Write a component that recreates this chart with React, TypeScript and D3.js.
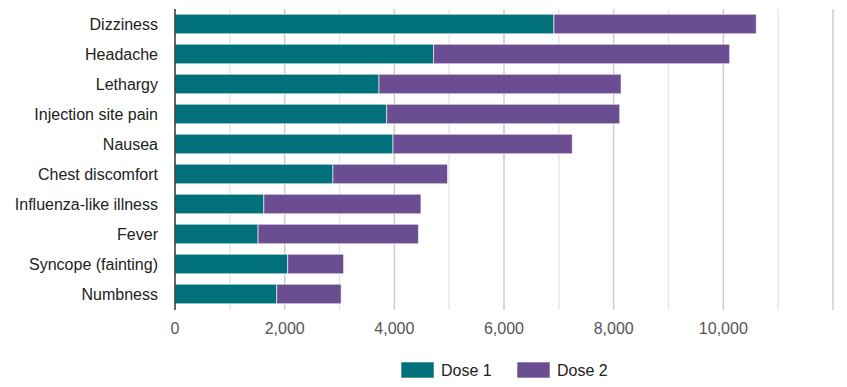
import * as React from 'react';
import { scaleBand, scaleLinear, stack, range, format } from 'd3';

const categories = [
    "Dizziness",
    "Headache",
    "Lethargy",
    "Injection site pain",
    "Nausea",
    "Chest discomfort",
    "Influenza-like illness",
    "Fever",
    "Syncope (fainting)",
    "Numbness",
];
const dose1 = [6910, 4715, 3720, 3860, 3975, 2880, 1620, 1515, 2055, 1855];
const dose2 = [3690, 5400, 4415, 4250, 3270, 2090, 2865, 2925, 1020, 1175];
const seriesNames = ["Dose 1", "Dose 2"];
const seriesColors = ["#00707a", "#6b4e92"];
const xTicks = [0, 2000, 4000, 6000, 8000, 10000];

const W = 847;
const H = 387;
const margin = { top: 9, right: 14, bottom: 78, left: 175 };

const App = () => {
    const innerW = W - margin.left - margin.right;
    const innerH = H - margin.top - margin.bottom;

    const rows = categories.map((c, i) => ({ name: c, "Dose 1": dose1[i], "Dose 2": dose2[i] }));
    const layers = stack<any>().keys(seriesNames)(rows);

    const x = scaleLinear().domain([0, 12000]).range([0, innerW]);
    const y = scaleBand().domain(categories).range([0, innerH]).paddingInner(0.35).paddingOuter(0.175);
    const fmt = format(",");

    return (
        <svg width={W} height={H} style={{ position: 'absolute', left: 0, top: 0, fontFamily: 'Arial, "Liberation Sans", sans-serif' }}>
            <rect width={W} height={H} fill="#fff" />
            <g transform={`translate(${margin.left},${margin.top})`}>
                {range(1000, 12001, 1000).map((t) => (
                    <line key={t} x1={x(t)} x2={x(t)} y1={0} y2={innerH + 1}
                        stroke={t % 2000 === 0 ? "#cccccc" : "#e6e6e6"} strokeWidth={1.5} />
                ))}
                {layers.map((layer, li) => (
                    <g key={layer.key} fill={seriesColors[li]}>
                        {layer.map((d: any) => (
                            <rect key={d.data.name}
                                x={x(d[0])}
                                y={y(d.data.name)}
                                width={x(d[1]) - x(d[0])}
                                height={y.bandwidth()}
                                stroke="rgba(255,255,255,0.6)" strokeWidth={1} />
                        ))}
                    </g>
                ))}
                <line x1={0} x2={0} y1={0} y2={innerH + 1} stroke="#333" strokeWidth={1.5} />
                {categories.map((c) => (
                    <text key={c} x={-17} y={(y(c) || 0) + y.bandwidth() / 2} dy="0.35em"
                        textAnchor="end" fontSize={16} fill="#222">{c}</text>
                ))}
                {xTicks.map((t) => (
                    <text key={t} x={x(t)} y={innerH + 19} dy="0.35em" textAnchor="middle"
                        fontSize={16} fill="#555">{fmt(t)}</text>
                ))}
            </g>
            <g transform="translate(401,362)">
                {seriesNames.map((s, i) => (
                    <g key={s} transform={`translate(${i * 116},0)`}>
                        <rect width={33} height={16} fill={seriesColors[i]} stroke="rgba(255,255,255,0.6)" />
                        <text x={40} y={8} dy="0.35em" fontSize={16} fill="#222">{s}</text>
                    </g>
                ))}
            </g>
        </svg>
    );
};

export default App;
